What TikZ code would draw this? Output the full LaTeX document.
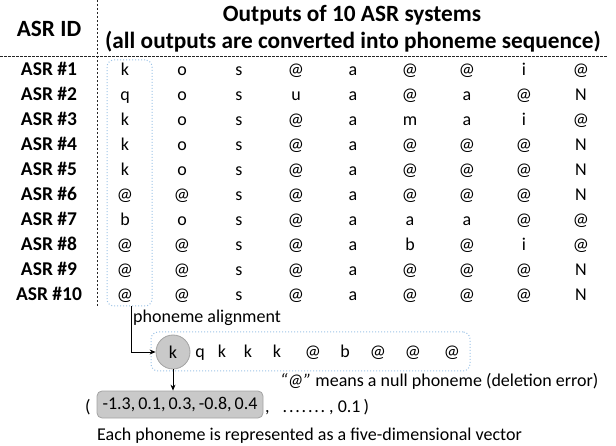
\documentclass[tikz,border=0pt]{standalone}
\usepackage{fontspec}
\setmainfont{Carlito}
\usetikzlibrary{arrows.meta}
\definecolor{dotblue}{HTML}{9DC3E6}
\definecolor{cellgray}{HTML}{C9C9C9}
\definecolor{edgegray}{HTML}{A3A3A3}

\begin{document}
\begin{tikzpicture}[x=1pt,y=-1pt,
  hdr/.style={font=\fontsize{23.3}{27}\selectfont\bfseries, inner sep=0, anchor=base},
  lbl/.style={font=\fontsize{19.5}{23}\selectfont\bfseries, inner sep=0, anchor=base},
  ph/.style={font=\fontsize{18}{22}\selectfont, inner sep=0, anchor=base},
  note/.style={font=\fontsize{18}{22}\selectfont, inner sep=0, anchor=base west},
  sep/.style={dash pattern=on 2.5pt off 1.5pt, line width=0.8pt, black!85},
  grp/.style={draw=dotblue, dotted, line width=1pt, rounded corners=7pt, inner sep=0},
  arr/.style={-{Stealth[length=6pt,width=5pt]}, line width=0.8pt}]

\useasboundingbox (0,0) rectangle (616,446);

% table header
\node[hdr] (hid) at (49,37) {ASR ID};
\node[hdr] (h1) at (352,22) {Outputs of 10 ASR systems};
\node[hdr] (h2) at (353,49) {(all outputs are converted into phoneme sequence)};

% separators
\coordinate (vtop) at (97,0);
\coordinate (vbot) at (97,306);
\coordinate (hl) at (0,56);
\coordinate (hr) at (608,56);
\draw[sep] (vtop) -- (vbot);
\draw[sep] (hl) -- (hr);

% first-column group
\node[grp, minimum width=45, minimum height=246] (colbox) at (129.5,183) {};

% rows of phonemes
\foreach \row [count=\r] in {
  {k,o,s,@,a,@,@,i,@},
  {q,o,s,u,a,@,a,@,N},
  {k,o,s,@,a,m,a,i,@},
  {k,o,s,@,a,@,@,@,N},
  {k,o,s,@,a,@,@,@,N},
  {@,@,s,@,a,@,@,@,N},
  {b,o,s,@,a,a,a,@,@},
  {@,@,s,@,a,b,@,i,@},
  {@,@,s,@,a,@,@,@,N},
  {@,@,s,@,a,@,@,@,N}} {
  \node[lbl] (lab\r) at (49,{76+25*(\r-1)}) {ASR \#\r};
  \foreach \p [count=\c] in \row {
    \node[ph] (r\r c\c) at ({125+57*(\c-1)},{76+25*(\r-1)}) {\p};
  }
}

% aligned sequence
\node[note] (align) at (133,323) {phoneme alignment};
\node[grp, minimum width=319, minimum height=39] (seqbox) at (310.5,351.5) {};
\node[circle, fill=cellgray, draw=edgegray, line width=0.8pt, minimum size=34pt, inner sep=0,
      font=\fontsize{18}{22}\selectfont] (kc) at (173,352) {k};
\foreach \p/\x [count=\i] in {q/200,k/222,k/248,k/277,@/313,b/345,@/378,@/413,@/452} {
  \node[ph] (s\i) at (\x,358) {\p};
}
\node[note] (nullnote) at (280,387) {{\itshape “@”} means a null phoneme (deletion error)};

% vector
\node[note] (lp) at (85,412) {(};
\node[fill=cellgray, draw=edgegray, line width=0.8pt, rounded corners=5pt, inner sep=0,
      minimum width=166pt, minimum height=27pt,
      font=\fontsize{18}{22}\selectfont] (vec) at (180,404.5) {-1.3,\,0.1,\,0.3,\,-0.8,\,0.4};
\node[note] (rest) at (265,412) {,\hspace{13pt}.\kern1.8pt.\kern1.8pt.\kern1.8pt.\kern1.8pt.\kern1.8pt.\kern1.8pt.\hspace{4pt}, 0.1\hspace{3pt})};
\node[note] (caption) at (97,440) {Each phoneme is represented as a five-dimensional vector};

% connectors
\draw[arr] ([xshift=1.5pt]colbox.south) |- (kc.west);
\draw[arr] (kc.south) -- (kc.south |- vec.north);
\end{tikzpicture}
\end{document}
